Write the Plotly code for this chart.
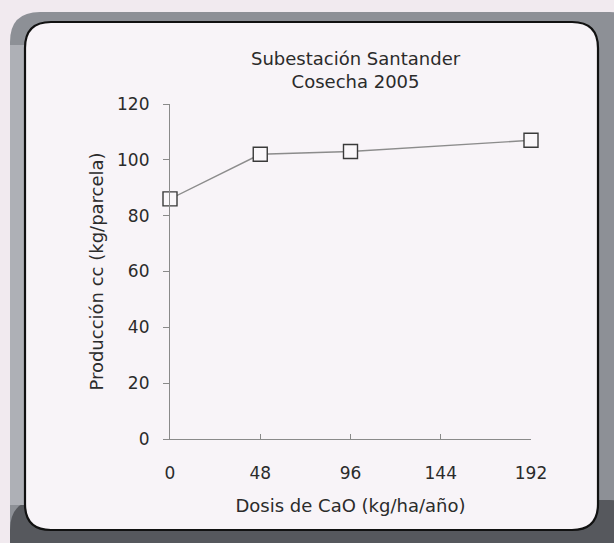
import plotly.graph_objects as go

# Dose of CaO (kg/ha/year) and yield (kg/plot)
dosis = [0, 48, 96, 192]
produccion = [86, 102, 103, 107]
x_ticks = [0, 48, 96, 144, 192]
y_ticks = [0, 20, 40, 60, 80, 100, 120]

W, H = 614, 543
L, R, T, B = 170, 531, 104, 439  # plot area in pixels


def px(x):
    return (x - L) / (R - L)


def py(y):
    return (B - y) / (B - T)


def rounded_rect(x0, y0, x1, y1, r):
    """Rounded rectangle path in paper coords from pixel corners."""
    pts = [
        f"M {px(x0 + r)},{py(y0)}",
        f"L {px(x1 - r)},{py(y0)}",
        f"Q {px(x1)},{py(y0)} {px(x1)},{py(y0 + r)}",
        f"L {px(x1)},{py(y1 - r)}",
        f"Q {px(x1)},{py(y1)} {px(x1 - r)},{py(y1)}",
        f"L {px(x0 + r)},{py(y1)}",
        f"Q {px(x0)},{py(y1)} {px(x0)},{py(y1 - r)}",
        f"L {px(x0)},{py(y0 + r)}",
        f"Q {px(x0)},{py(y0)} {px(x0 + r)},{py(y0)}",
        "Z",
    ]
    return " ".join(pts)


FONT = "DejaVu Sans"
TXT = "#2b2b2b"

fig = go.Figure()
fig.add_trace(go.Scatter(
    x=dosis, y=produccion, mode="lines+markers",
    line=dict(color="#8c8c8c", width=1.4),
    marker=dict(symbol="square", size=14, color="#faf7fa",
                line=dict(color="#3a3a3a", width=1.4)),
    cliponaxis=False, showlegend=False,
))

shapes = [
    # outer grey frame
    dict(type="path", xref="paper", yref="paper", layer="below",
         path=rounded_rect(10, 12, 640, 570, 30),
         fillcolor="#8d9096", line=dict(width=0)),
    # darker lower band
    dict(type="path", xref="paper", yref="paper", layer="below",
         path=rounded_rect(10, 500, 640, 570, 30),
         fillcolor="#56585d", line=dict(width=0)),
    # lighter left band
    dict(type="rect", xref="paper", yref="paper", layer="below",
         x0=px(10), x1=px(25), y0=py(505), y1=py(45),
         fillcolor="#aeb0b6", line=dict(width=0)),
    # inner panel
    dict(type="path", xref="paper", yref="paper", layer="below",
         path=rounded_rect(25, 22, 598, 530, 26),
         fillcolor="#f8f4f8", line=dict(color="#111111", width=2.2)),
]

fig.update_layout(
    width=W, height=H,
    margin=dict(l=L, r=W - R, t=T, b=H - B, pad=0),
    paper_bgcolor="#f1eaef",
    plot_bgcolor="rgba(0,0,0,0)",
    shapes=shapes,
    font=dict(family=FONT, color=TXT, size=17),
    annotations=[
        dict(text="Subestación Santander<br>Cosecha 2005", xref="paper", yref="paper",
             x=px(356), y=py(70), showarrow=False, xanchor="center", yanchor="middle",
             font=dict(size=18, family=FONT, color=TXT)),
    ],
    xaxis=dict(
        range=[0, 192], tickvals=x_ticks, ticktext=[str(v) for v in x_ticks],
        showgrid=False, zeroline=False, showline=True, linecolor="#8a8a8a",
        linewidth=1.2, ticks="inside", ticklen=5, tickcolor="#8a8a8a",
        ticklabelstandoff=18,
        tickfont=dict(size=17, family=FONT, color=TXT),
        title=dict(text="Dosis de CaO (kg/ha/año)", standoff=17,
                   font=dict(size=18, family=FONT, color=TXT)),
    ),
    yaxis=dict(
        range=[0, 120], tickvals=y_ticks, showgrid=False, zeroline=False,
        showline=True, linecolor="#8a8a8a", linewidth=1.2, ticks="outside",
        ticklen=6, tickcolor="#8a8a8a", ticklabelstandoff=10,
        tickfont=dict(size=17, family=FONT, color=TXT),
        title=dict(text="Producción cc (kg/parcela)", standoff=8,
                   font=dict(size=18, family=FONT, color=TXT)),
    ),
)

fig.write_html("out.html")
